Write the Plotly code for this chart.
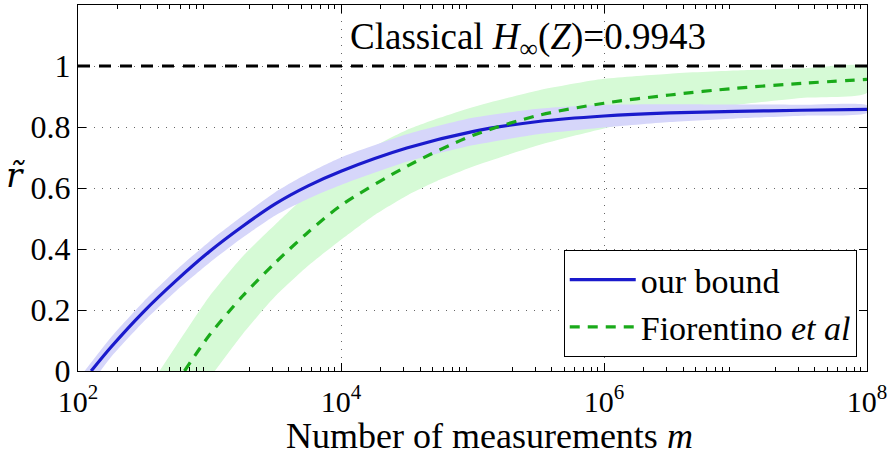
import plotly.graph_objects as go

# ---------------- data ----------------
# x positions given as log10(m)
blue_exp = [2.10, 2.25, 2.5, 2.75, 3.0, 3.25, 3.5, 3.75, 4.0, 4.5, 5.0, 5.5, 6.0, 6.5, 7.0, 7.5, 8.0]
blue_r = [0.0, 0.078, 0.195, 0.298, 0.392, 0.474, 0.548, 0.607, 0.655, 0.731, 0.785, 0.818, 0.836, 0.846, 0.851, 0.855, 0.858]

blue_hi_exp = [2.05, 2.25, 2.5, 2.75, 3.0, 3.25, 3.5, 3.75, 4.0, 4.5, 5.0, 5.5, 6.0, 6.5, 7.0, 7.5, 8.0]
blue_hi = [0.0, 0.11, 0.228, 0.332, 0.425, 0.508, 0.586, 0.648, 0.70, 0.776, 0.83, 0.86, 0.873, 0.875, 0.874, 0.873, 0.871]

blue_lo_exp = [2.17, 2.25, 2.5, 2.75, 3.0, 3.25, 3.5, 3.75, 4.0, 4.5, 5.0, 5.5, 6.0, 6.5, 7.0, 7.5, 8.0]
blue_lo = [0.0, 0.045, 0.162, 0.264, 0.355, 0.437, 0.51, 0.565, 0.61, 0.686, 0.74, 0.776, 0.798, 0.816, 0.828, 0.837, 0.846]

green_exp = [2.81, 3.0, 3.25, 3.5, 3.75, 4.0, 4.5, 5.0, 5.5, 6.0, 6.5, 7.0, 7.5, 8.0]
green_r = [0.0, 0.118, 0.245, 0.355, 0.455, 0.543, 0.671, 0.772, 0.838, 0.878, 0.905, 0.927, 0.943, 0.956]

green_hi_exp = [2.62, 2.75, 3.0, 3.25, 3.5, 3.75, 4.0, 4.25, 4.5, 4.75, 5.0, 5.5, 6.0, 6.5, 7.0, 7.5, 8.0]
green_hi = [0.0, 0.085, 0.245, 0.375, 0.48, 0.58, 0.665, 0.735, 0.79, 0.83, 0.865, 0.92, 0.958, 0.975, 0.985, 0.992, 0.998]

green_lo_exp = [3.04, 3.25, 3.5, 3.75, 4.0, 4.25, 4.5, 4.75, 5.0, 5.5, 6.0, 6.5, 7.0, 7.5, 8.0]
green_lo = [0.0, 0.12, 0.245, 0.345, 0.43, 0.51, 0.575, 0.627, 0.67, 0.74, 0.795, 0.84, 0.872, 0.895, 0.912]

classical_exp = [2.0, 8.0]
classical_r = [1.0, 1.0]

x_tick_exp = [2, 4, 6, 8]
x_tick_text = ["10<sup>2</sup>", "10<sup>4</sup>", "10<sup>6</sup>", "10<sup>8</sup>"]
y_tick_vals = [0, 0.2, 0.4, 0.6, 0.8, 1.0]
y_tick_text = ["0", "0.2", "0.4", "0.6", "0.8", "1"]

# ---------------- styling ----------------
FONT = "Liberation Serif, DejaVu Serif, serif"
BLUE = "rgb(26,26,204)"
BLUE_BAND = "rgb(214,214,250)"
GREEN = "rgb(26,170,26)"
GREEN_BAND = "rgb(214,250,214)"
GRID = "#666666"


def tm(exps):
    return [10 ** e for e in exps]


fig = go.Figure()

# green band
fig.add_trace(go.Scatter(
    x=tm(green_hi_exp) + tm(green_lo_exp)[::-1],
    y=green_hi + green_lo[::-1],
    fill="toself", fillcolor=GREEN_BAND, line=dict(width=0, shape="spline", smoothing=0.6),
    mode="lines", showlegend=False, hoverinfo="skip"))
# blue band
fig.add_trace(go.Scatter(
    x=tm(blue_hi_exp) + tm(blue_lo_exp)[::-1],
    y=blue_hi + blue_lo[::-1],
    fill="toself", fillcolor=BLUE_BAND, line=dict(width=0, shape="spline", smoothing=0.6),
    mode="lines", showlegend=False, hoverinfo="skip"))

fig.add_trace(go.Scatter(
    x=tm(blue_exp), y=blue_r, mode="lines", name="our bound",
    line=dict(color=BLUE, width=3.2, shape="spline", smoothing=0.8)))
fig.add_trace(go.Scatter(
    x=tm(green_exp), y=green_r, mode="lines", name="Fiorentino <i>et al</i>",
    line=dict(color=GREEN, width=3.2, dash="10px,8px", shape="spline", smoothing=0.8)))
fig.add_trace(go.Scatter(
    x=tm(classical_exp), y=classical_r, mode="lines", showlegend=False,
    line=dict(color="black", width=3.2, dash="12px,9px")))

minor_vals = [k * 10 ** d for d in range(2, 8) for k in range(2, 10)]

fig.update_xaxes(
    type="log", range=[2, 8],
    tickvals=tm(x_tick_exp), ticktext=x_tick_text,
    ticks="inside", ticklen=8, tickcolor="black", mirror="allticks",
    showline=True, linecolor="black", linewidth=1,
    showgrid=True, gridcolor=GRID, griddash="1px,7px", gridwidth=1,
    zeroline=False, ticklabelstandoff=4,
    minor=dict(tickvals=minor_vals, ticks="inside", ticklen=4,
               tickcolor="black", showgrid=False),
    tickfont=dict(family=FONT, size=30, color="black"),
)
fig.update_yaxes(
    range=[0, 1.2],
    tickvals=y_tick_vals, ticktext=y_tick_text,
    ticks="inside", ticklen=8, tickcolor="black", mirror="allticks",
    showline=True, linecolor="black", linewidth=1,
    showgrid=True, gridcolor=GRID, griddash="1px,7px", gridwidth=1,
    zeroline=False,
    tickfont=dict(family=FONT, size=32, color="black"),
)

fig.add_annotation(text="Classical <i>H</i><sub>∞</sub>(<i>Z</i>)=0.9943",
                   xref="paper", yref="paper", x=0.570, y=0.905,
                   xanchor="center", yanchor="middle",
                   showarrow=False, font=dict(family=FONT, size=37, color="black"))
fig.add_annotation(text="Number of measurements <i>m</i>",
                   xref="paper", yref="paper", x=0.522, y=-0.1776,
                   xanchor="center", yanchor="middle",
                   showarrow=False, font=dict(family=FONT, size=36, color="black"))
# y-axis label: r with a tilde (combining mark)
fig.add_annotation(text="<i>r\u0303</i>",
                   xref="paper", yref="paper", x=-0.078, y=0.535,
                   xanchor="center", yanchor="middle",
                   showarrow=False,
                   font=dict(family="DejaVu Serif, serif", size=34, color="black"))

fig.update_layout(
    width=893, height=460,
    margin=dict(l=78, r=26, t=5, b=89),
    plot_bgcolor="white", paper_bgcolor="white",
    font=dict(family=FONT, color="black"),
    legend=dict(x=0.987, y=0.038, xanchor="right", yanchor="bottom",
                bgcolor="white", bordercolor="black", borderwidth=1,
                font=dict(family=FONT, size=34, color="black"),
                itemwidth=66, tracegroupgap=0),
)

fig.write_html("out.html")
